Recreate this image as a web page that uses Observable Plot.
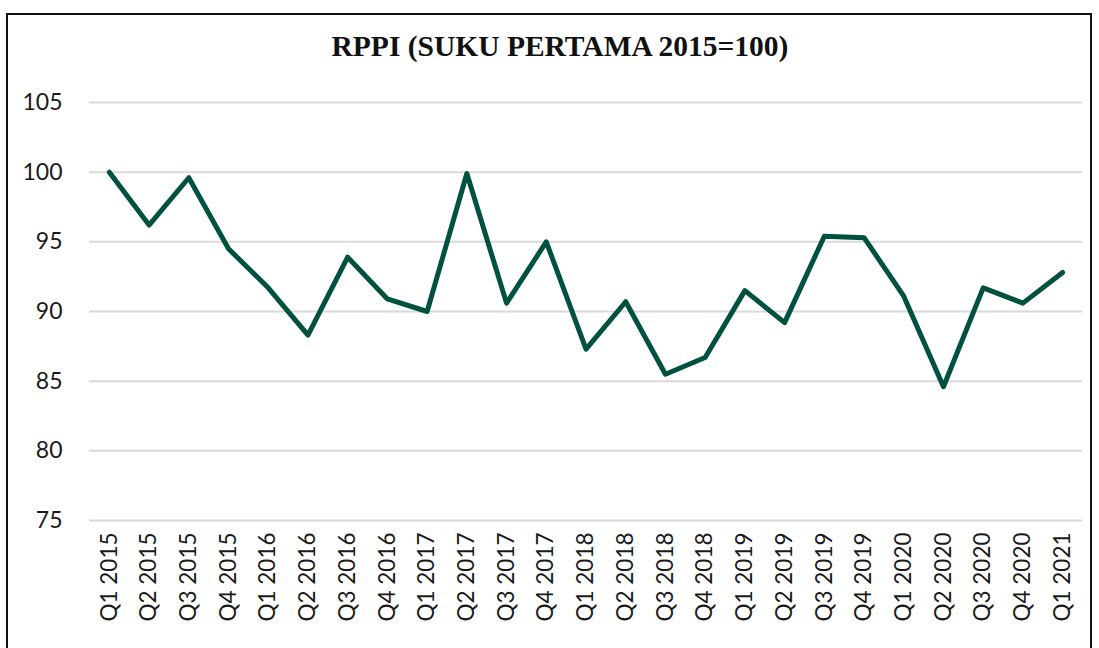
<!DOCTYPE html>
<html>
<head>
<meta charset="utf-8">
<script src="https://cdn.jsdelivr.net/npm/d3@7"></script>
<script src="https://cdn.jsdelivr.net/npm/@observablehq/plot@0.6"></script>
<style>
  html, body { margin: 0; padding: 0; background: #fff; width: 1099px; height: 648px; overflow: hidden; }
  #frame { position: absolute; left: 6px; top: 13px; width: 1086px; height: 700px; border: 2px solid #111; box-sizing: border-box; }
  #title { position: absolute; left: 0; top: 32px; width: 1120px; text-align: center; line-height: 1;
    font-family: "Liberation Serif", serif; font-weight: bold; font-size: 29.5px; color: #111; }
  #chart { position: absolute; left: 0; top: 0; }
</style>
</head>
<body>
<div id="frame"></div>
<div id="title">RPPI (SUKU PERTAMA 2015=100)</div>
<div id="chart"></div>
<script>
const quarters = ["Q1 2015","Q2 2015","Q3 2015","Q4 2015","Q1 2016","Q2 2016","Q3 2016","Q4 2016","Q1 2017","Q2 2017","Q3 2017","Q4 2017","Q1 2018","Q2 2018","Q3 2018","Q4 2018","Q1 2019","Q2 2019","Q3 2019","Q4 2019","Q1 2020","Q2 2020","Q3 2020","Q4 2020","Q1 2021"];
const rppi = [100.0, 96.2, 99.6, 94.5, 91.7, 88.3, 93.9, 90.9, 90.0, 99.9, 90.6, 95.0, 87.3, 90.7, 85.5, 86.7, 91.5, 89.2, 95.4, 95.3, 91.1, 84.6, 91.7, 90.6, 92.8];
const yTicks = [75, 80, 85, 90, 95, 100, 105];

const data = quarters.map((q, i) => ({q, v: rppi[i]}));

const chart = Plot.plot({
  width: 1099,
  height: 648,
  marginLeft: 89,
  marginRight: 17,
  marginTop: 102,
  marginBottom: 128,
  style: { fontFamily: "Lato, sans-serif", fontSize: "22px", color: "#1a1a1a", background: "transparent" },
  x: { type: "point", domain: quarters, padding: 0.5, round: false, label: null },
  y: { domain: [75, 105], label: null },
  marks: [
    Plot.ruleY(yTicks, { stroke: "#d9d9d9", strokeWidth: 2 }),
    Plot.axisY({ ticks: yTicks, tickSize: 0, tickPadding: 27, label: null, fontSize: 23 }),
    Plot.axisX({ tickSize: 0, tickPadding: 12, tickRotate: -90, label: null, fontSize: 22.5 }),
    Plot.line(data, { x: "q", y: "v", stroke: "#00513f", strokeWidth: 5, strokeLinejoin: "round", strokeLinecap: "round" })
  ]
});
document.getElementById("chart").appendChild(chart);
</script>
</body>
</html>
